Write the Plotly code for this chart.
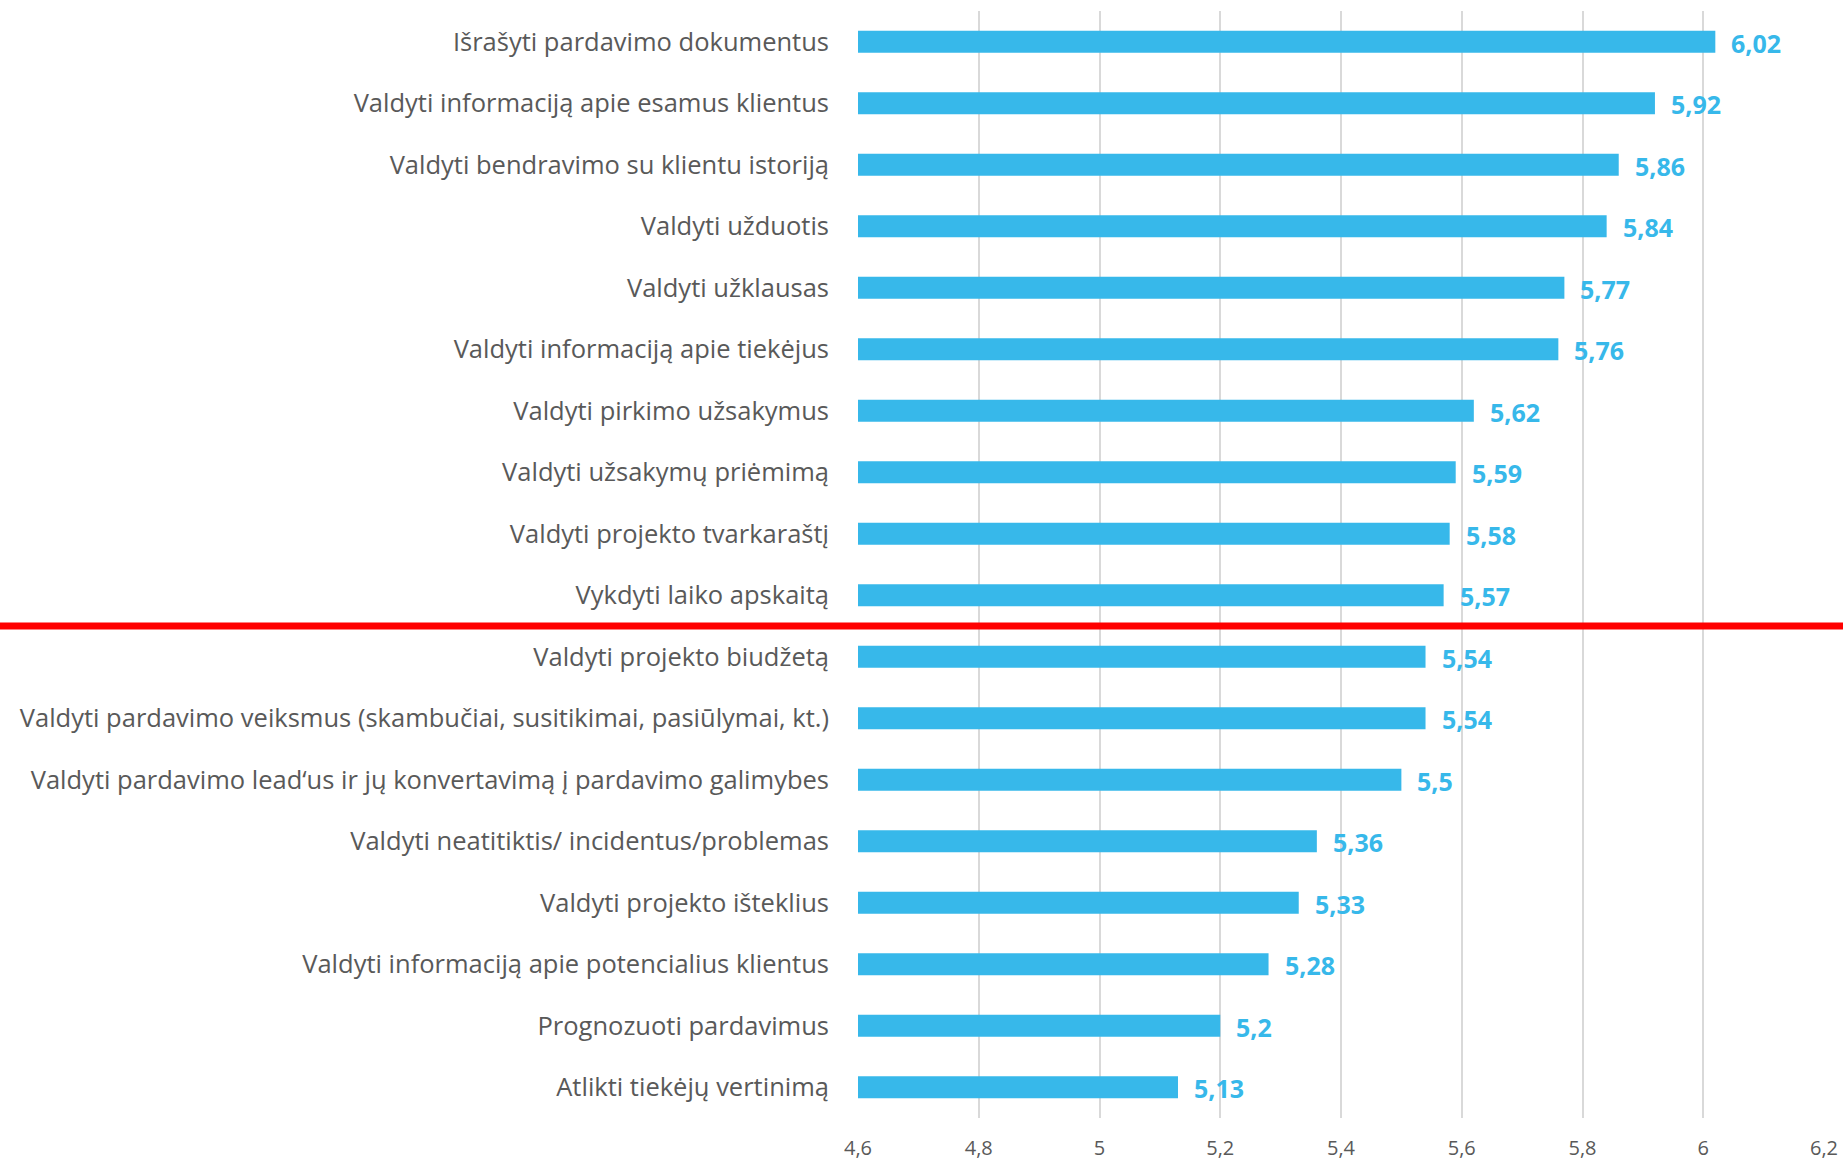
import plotly.graph_objects as go

categories = [
    "Išrašyti pardavimo dokumentus",
    "Valdyti informaciją apie esamus klientus",
    "Valdyti bendravimo su klientu istoriją",
    "Valdyti užduotis",
    "Valdyti užklausas",
    "Valdyti informaciją apie tiekėjus",
    "Valdyti pirkimo užsakymus",
    "Valdyti užsakymų priėmimą",
    "Valdyti projekto tvarkaraštį",
    "Vykdyti laiko apskaitą",
    "Valdyti projekto biudžetą",
    "Valdyti pardavimo veiksmus (skambučiai, susitikimai, pasiūlymai, kt.)",
    "Valdyti pardavimo lead‘us ir jų konvertavimą į pardavimo galimybes",
    "Valdyti neatitiktis/ incidentus/problemas",
    "Valdyti projekto išteklius",
    "Valdyti informaciją apie potencialius klientus",
    "Prognozuoti pardavimus",
    "Atlikti tiekėjų vertinimą",
]
values = [6.02, 5.92, 5.86, 5.84, 5.77, 5.76, 5.62, 5.59, 5.58, 5.57,
          5.54, 5.54, 5.5, 5.36, 5.33, 5.28, 5.2, 5.13]
value_labels = ["6,02", "5,92", "5,86", "5,84", "5,77", "5,76", "5,62", "5,59", "5,58", "5,57",
                "5,54", "5,54", "5,5", "5,36", "5,33", "5,28", "5,2", "5,13"]
x_min, x_max = 4.6, 6.2
split_after = 10  # red line after the first 10 items

BAR = "#37B8EA"
W, H = 1843, 1160
L, R, T, B = 858, 19, 11, 42
plot_w = W - L - R

fig = go.Figure()
fig.add_trace(go.Bar(
    y=categories, x=[v - x_min for v in values], base=x_min, orientation="h",
    marker=dict(color=BAR, line=dict(width=0)),
    hoverinfo="skip",
))

for c, v, t in zip(categories, values, value_labels):
    fig.add_annotation(x=v, y=c, text=f"<b>{t}</b>", showarrow=False,
                       xanchor="left", yanchor="middle", xshift=14, yshift=-1,
                       font=dict(family="Open Sans", size=25, color=BAR))

fig.add_shape(type="line", xref="paper", yref="y",
              x0=-L / plot_w, x1=1 + R / plot_w,
              y0=split_after - 0.5, y1=split_after - 0.5,
              line=dict(color="#FF0000", width=7), layer="above")

fig.update_layout(
    width=W, height=H,
    margin=dict(l=L, r=R, t=T, b=B, autoexpand=False),
    paper_bgcolor="white", plot_bgcolor="white",
    bargap=0.64, showlegend=False,
    separators=", ",
    font=dict(family="Open Sans", color="#595959"),
    xaxis=dict(range=[x_min, x_max], dtick=0.2, tick0=4.6,
               showgrid=True, gridcolor="#D9D9D9", gridwidth=2,
               zeroline=False, showline=False, ticks="",
               tickfont=dict(size=20, color="#595959"),
               ticklabelstandoff=16, automargin=False),
    yaxis=dict(autorange="reversed", showgrid=False, showline=False, ticks="",
               tickfont=dict(size=25.5, color="#595959"),
               ticklabelstandoff=28, automargin=False),
)

fig.write_html("out.html",
               config={"displayModeBar": False, "staticPlot": True},
               post_script="document.body.style.margin='0';document.body.style.overflow='hidden';")
